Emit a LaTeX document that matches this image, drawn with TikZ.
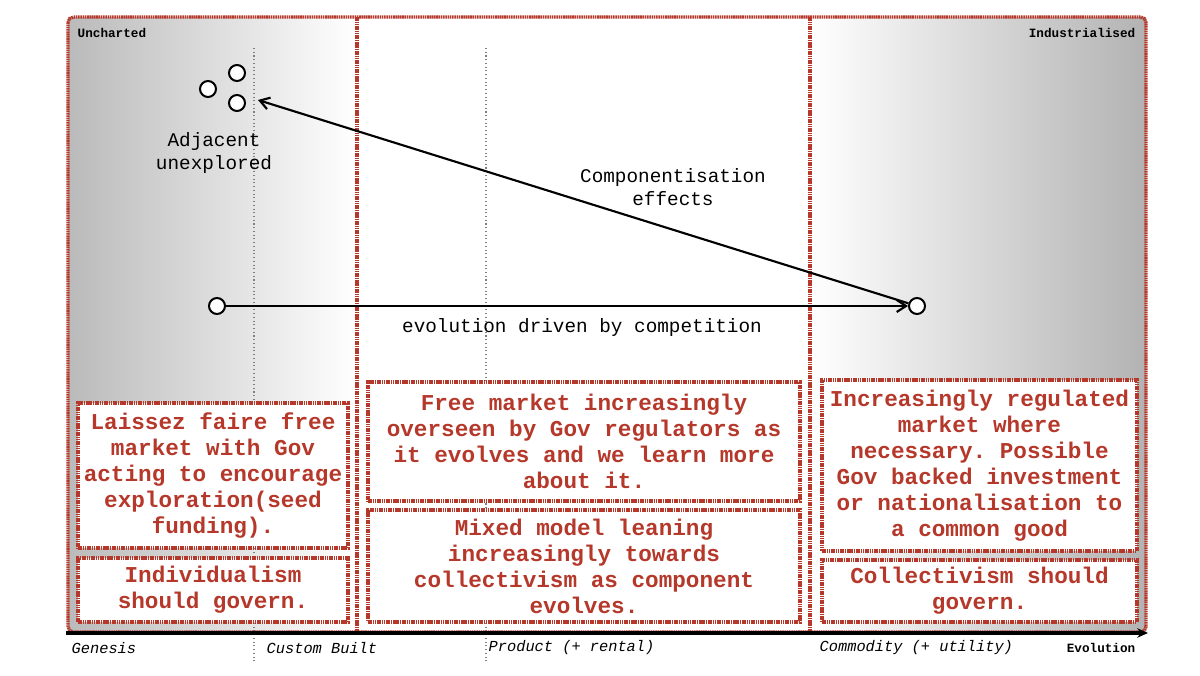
\documentclass[tikz,border=0pt]{standalone}
\usepackage{fontspec}
\setmonofont{Liberation Mono}
\usetikzlibrary{arrows.meta}
\definecolor{wred}{HTML}{B5382A}
\tikzset{
  redline/.style={draw=wred,line width=2.4pt,dash pattern=on 1.2pt off 0.5pt},
  rbox/.style={redline,fill=white},
  rtext/.style={text=wred,font=\ttfamily\bfseries\fontsize{17}{19.5}\selectfont,align=center},
  btext/.style={font=\ttfamily\fontsize{14.5}{17.5}\selectfont,align=center},
  comp/.style={circle,draw,line width=1.5pt,fill=white,minimum size=12pt,inner sep=0pt},
  axlab/.style={font=\ttfamily\itshape\fontsize{11.5}{13}\selectfont,anchor=west},
  corner/.style={font=\ttfamily\bfseries\fontsize{9.5}{11}\selectfont},
  arr/.style={line width=1.6pt,-{Straight Barb[length=7pt,width=9pt]}}
}
\begin{document}
\begin{tikzpicture}[x=0.75pt,y=-0.75pt]
\useasboundingbox (0,0) rectangle (1200,675);
\fill[white] (0,0) rectangle (1200,675);
\shade[left color=black!27,right color=white] (68,17) rectangle (357,632);
\shade[left color=white,right color=black!30] (810,17) rectangle (1146,632);
\draw[gray,dotted,line width=0.8pt] (254,48) -- (254,662);
\draw[gray,dotted,line width=0.8pt] (486,48) -- (486,662);
\draw[redline,rounded corners=4pt] (68,17) rectangle (1146,632);
\draw[redline] (357,17) -- (357,632);
\draw[redline] (810,17) -- (810,632);
\node[corner,anchor=north west] (unc) at (73,24) {Uncharted};
\node[corner,anchor=north east] (ind) at (1140,24) {Industrialised};
% boxes
\node[rbox,rtext,minimum width=270*0.75pt,minimum height=145*0.75pt] (b1) at (213,475.5) {Laissez faire free\\market with Gov\\acting to encourage\\exploration(seed\\funding).};
\node[rbox,rtext,minimum width=270*0.75pt,minimum height=64*0.75pt] (b2) at (213,590) {Individualism\\should govern.};
\node[rbox,rtext,minimum width=432*0.75pt,minimum height=119*0.75pt] (b3) at (584,441.5) {Free market increasingly\\overseen by Gov regulators as\\it evolves and we learn more\\about it.};
\node[rbox,rtext,minimum width=432*0.75pt,minimum height=112*0.75pt] (b4) at (584,566) {Mixed model leaning\\increasingly towards\\collectivism as component\\evolves.};
\node[rbox,rtext,minimum width=315*0.75pt,minimum height=171*0.75pt] (b5) at (979.5,465.5) {Increasingly regulated\\market where\\necessary. Possible\\Gov backed investment\\or nationalisation to\\a common good};
\node[rbox,rtext,minimum width=315*0.75pt,minimum height=62*0.75pt] (b6) at (979.5,591) {Collectivism should\\govern.};
% components
\node[comp] (c1) at (208,89) {};
\node[comp] (c2) at (237,73) {};
\node[comp] (c3) at (237,103) {};
\node[comp] (s) at (217,306) {};
\node[comp] (e) at (917,306) {};
\node[btext] (adj) at (214,153) {Adjacent\\unexplored};
\coordinate (tip) at (258,100);
\draw[arr] (s) -- (e);
\draw[arr] (e) -- (tip);
\node[btext] (l1) at (582,327) {evolution driven by competition};
\node[btext] (l2) at (673,187) {Componentisation\\effects};
% axis
\coordinate (a0) at (66,633);
\coordinate (a1) at (1148,633);
\draw[line width=2.6pt,-{Stealth[length=8pt,width=7pt]}] (a0) -- (a1);
\node[axlab] (g) at (67,648) {Genesis};
\node[axlab] (cb) at (262,648) {Custom Built};
\node[axlab] (pr) at (484,648) {Product (+ rental)};
\node[axlab] (co) at (815,648) {Commodity (+ utility)};
\node[corner,anchor=east] (ev) at (1140,648) {Evolution};
\end{tikzpicture}
\end{document}
